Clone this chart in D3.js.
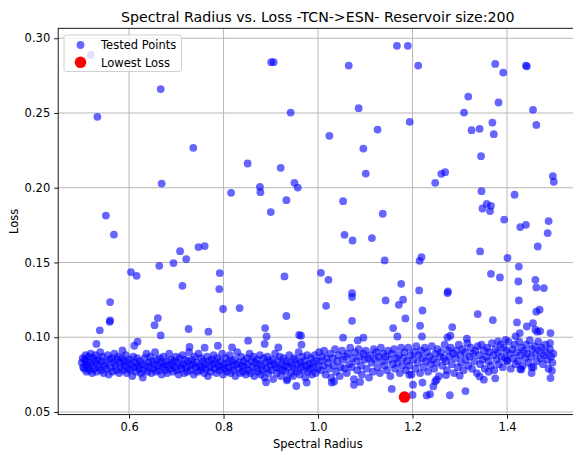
<!DOCTYPE html>
<html>
<head>
<meta charset="utf-8">
<script src="https://cdn.jsdelivr.net/npm/d3@7"></script>
<style>
  body { margin: 0; background: #fff; }
  text { font-family: "DejaVu Sans", sans-serif; fill: #000; }
</style>
</head>
<body>
<svg id="chart" width="573" height="453"></svg>
<script>
// [spectral radius, loss]
let highLossPoints = [
  [0.519,0.2888],[0.901,0.2840],[0.906,0.2840],[0.533,0.2474],[0.942,0.2503],[0.667,0.2660],[0.736,0.2267],
  [0.851,0.2162],[0.921,0.2133],[0.669,0.2028],[0.877,0.2006],[0.878,0.1970],[0.816,0.1966],[0.950,0.2033],
  [0.957,0.2001],[0.933,0.1917],[0.900,0.1837],[0.551,0.1814],[0.568,0.1687],[0.708,0.1576],[0.721,0.1523],
  [0.747,0.1603],[0.760,0.1610],[0.694,0.1496],[0.664,0.1478],[0.604,0.1436],[0.616,0.1411],[0.792,0.1429],
  [0.791,0.1322],[0.929,0.1407],[0.713,0.1344],[0.560,0.1235],[0.799,0.1189],[0.834,0.1195],
  [1.167,0.2949],[1.190,0.2949],[1.065,0.2817],[1.212,0.2817],[1.375,0.2828],[1.392,0.2770],[1.440,0.2817],
  [1.442,0.2812],[1.318,0.2610],[1.382,0.2570],[1.086,0.2532],[1.309,0.2503],[1.455,0.2521],[1.194,0.2441],
  [1.369,0.2436],[1.462,0.2420],[1.126,0.2389],[1.325,0.2385],[1.342,0.2394],[1.024,0.2347],[1.372,0.2358],
  [1.096,0.2262],[1.345,0.2211],[1.101,0.2095],[1.261,0.2093],[1.269,0.2104],[1.248,0.2033],[1.497,0.2078],
  [1.499,0.2040],[1.346,0.1977],[1.053,0.1910],[1.416,0.1953],[1.357,0.1892],[1.366,0.1879],[1.348,0.1861],
  [1.364,0.1844],[1.137,0.1826],[1.394,0.1787],[1.428,0.1737],[1.440,0.1752],[1.488,0.1777],[1.486,0.1697],
  [1.056,0.1685],[1.073,0.1647],[1.114,0.1663],[1.465,0.1607],[1.343,0.1574],[1.401,0.1530],[1.141,0.1514],
  [1.219,0.1536],[1.215,0.1511],[1.425,0.1473],[1.006,0.1431],[1.022,0.1384],[1.366,0.1424],[1.385,0.1400],
  [1.424,0.1373],[1.460,0.1384],[1.462,0.1333],[1.478,0.1329],[1.176,0.1357],[1.072,0.1295],[1.072,0.1269],
  [1.275,0.1306],[1.274,0.1296],[1.214,0.1313],[1.143,0.1246],[1.180,0.1251],[1.171,0.1217],[1.425,0.1246],
  [1.017,0.1210],[1.221,0.1179],[1.338,0.1155],[1.462,0.1171],[1.469,0.1184]
];

let midLossPoints = [
  [0.661,0.1128],[0.560,0.1112],[0.933,0.1142],[0.538,0.1046],[0.559,0.1103],[0.654,0.1081],[0.667,0.1012],
  [0.726,0.1055],[0.768,0.1037],[0.531,0.0955],[0.611,0.0943],[0.618,0.0970],[0.586,0.0912],[0.728,0.0935],
  [0.760,0.0930],[0.788,0.0943],[0.887,0.0955],[0.852,0.0977],[0.965,0.0950],[0.888,0.1061],[0.891,0.1005],
  [0.960,0.1015],[0.964,0.1010],[0.818,0.0932],[0.916,0.0932],
  [1.072,0.1110],[1.185,0.1126],[1.053,0.0997],[1.096,0.0997],[1.084,0.0979],[1.159,0.1061],[1.168,0.1005],
  [1.370,0.1115],[1.216,0.1077],[1.220,0.1005],[1.284,0.1068],[1.421,0.1099],[1.442,0.1072],[1.455,0.1095],
  [1.464,0.1037],[1.470,0.1041],[1.427,0.1028],[1.492,0.1028],[1.274,0.0999],[1.280,0.1010],[1.315,0.0990],
  [1.418,0.1006],[1.460,0.1050],[1.491,0.0961],[1.397,0.0983],[1.381,0.0972]
];

let bandLeft = [
  [0.500,0.083],[0.502,0.086],[0.503,0.080],[0.505,0.079],[0.506,0.085],[0.508,0.088],[0.509,0.082],[0.510,0.077],
  [0.511,0.084],[0.513,0.080],[0.514,0.087],[0.516,0.078],[0.518,0.083],[0.519,0.089],
  [0.521,0.081],[0.522,0.076],[0.524,0.086],[0.526,0.079],[0.528,0.084],[0.529,0.088],
  [0.531,0.077],[0.533,0.082],[0.535,0.085],[0.537,0.080],[0.539,0.090],
  [0.541,0.078],[0.542,0.084],[0.544,0.087],[0.546,0.076],[0.548,0.081],
  [0.551,0.083],[0.553,0.079],[0.555,0.088],[0.557,0.075],[0.559,0.085],
  [0.561,0.080],[0.563,0.086],[0.565,0.077],[0.567,0.083],[0.569,0.089],
  [0.571,0.081],[0.573,0.078],[0.575,0.085],[0.577,0.087],[0.579,0.076],
  [0.581,0.083],[0.583,0.080],[0.585,0.086],[0.587,0.078],[0.589,0.084],
  [0.591,0.081],[0.593,0.088],[0.595,0.076],[0.597,0.083],[0.599,0.079],
  [0.601,0.085],[0.603,0.078],[0.605,0.082],[0.607,0.074],[0.609,0.087],
  [0.611,0.080],[0.613,0.083],[0.615,0.077],[0.617,0.086],[0.619,0.081],
  [0.621,0.079],[0.623,0.084],[0.625,0.076],[0.627,0.082],[0.629,0.073],
  [0.631,0.078],[0.633,0.086],[0.635,0.081],[0.637,0.089],[0.639,0.077],
  [0.641,0.083],[0.643,0.080],[0.645,0.087],[0.647,0.076],[0.649,0.084],
  [0.651,0.079],[0.653,0.082],[0.655,0.090],[0.657,0.077],[0.659,0.085],
  [0.661,0.081],[0.663,0.078],[0.665,0.086],[0.667,0.083],[0.669,0.075],
  [0.671,0.080],[0.673,0.087],[0.675,0.082],[0.677,0.078],[0.679,0.084],
  [0.681,0.076],[0.683,0.081],[0.685,0.089],[0.687,0.079],[0.689,0.085],
  [0.691,0.082],[0.693,0.077],[0.695,0.084],[0.697,0.080],[0.699,0.087],
  [0.701,0.078],[0.703,0.083],[0.705,0.075],[0.707,0.086],[0.709,0.081],
  [0.711,0.079],[0.713,0.088],[0.715,0.082],[0.717,0.076],[0.719,0.085],
  [0.721,0.080],[0.723,0.077],[0.725,0.084],[0.727,0.090],[0.729,0.081],
  [0.731,0.078],[0.733,0.085],[0.735,0.082],[0.737,0.075],[0.739,0.087],
  [0.741,0.080],[0.743,0.083],[0.745,0.077],[0.747,0.089],[0.749,0.081],
  [0.751,0.078],[0.753,0.086],[0.755,0.080],[0.757,0.084],[0.759,0.076],
  [0.761,0.082],[0.763,0.079],[0.765,0.087],[0.767,0.074],[0.769,0.084],
  [0.771,0.080],[0.773,0.077],[0.775,0.085],[0.777,0.082],[0.779,0.088],
  [0.781,0.079],[0.783,0.083],[0.785,0.076],[0.787,0.086],[0.789,0.081],
  [0.791,0.078],[0.793,0.084],[0.795,0.080],[0.797,0.089],[0.799,0.075],
  [0.801,0.082],[0.803,0.079],[0.805,0.086],[0.807,0.077],[0.809,0.083],
  [0.811,0.080],[0.813,0.088],[0.815,0.076],[0.817,0.084],[0.819,0.081],
  [0.821,0.078],[0.823,0.085],[0.825,0.074],[0.827,0.082],[0.829,0.090],
  [0.831,0.079],[0.833,0.083],[0.835,0.076],[0.837,0.087],[0.839,0.081],
  [0.841,0.077],[0.843,0.084],[0.845,0.080],[0.847,0.075],[0.849,0.086],
  [0.851,0.082],[0.853,0.078],[0.855,0.089],[0.857,0.076],[0.859,0.084],
  [0.861,0.080],[0.863,0.087],[0.865,0.074],[0.867,0.083],[0.869,0.079],
  [0.871,0.085],[0.873,0.077],[0.875,0.082],[0.877,0.088],[0.879,0.075],
  [0.881,0.081],[0.883,0.078],[0.885,0.086],[0.887,0.073],[0.889,0.083],
  [0.891,0.079],[0.893,0.087],[0.895,0.076],[0.897,0.084],[0.899,0.081],
  [0.901,0.078],[0.903,0.085],[0.905,0.072],[0.907,0.082],[0.909,0.089],
  [0.911,0.080],[0.913,0.076],[0.915,0.084],[0.917,0.079],[0.919,0.087],
  [0.921,0.074],[0.923,0.082],[0.925,0.078],[0.927,0.086],[0.929,0.081],
  [0.931,0.077],[0.933,0.084],[0.935,0.072],[0.937,0.080],[0.939,0.088],
  [0.941,0.083],[0.943,0.076],[0.945,0.081],[0.947,0.074],[0.949,0.086],
  [0.951,0.079],[0.953,0.085],[0.955,0.077],[0.957,0.082],[0.959,0.090],
  [0.961,0.075],[0.963,0.083],[0.965,0.080],[0.967,0.087],[0.969,0.078],
  [0.971,0.084],[0.973,0.073],[0.975,0.081],[0.977,0.088],[0.979,0.077],
  [0.981,0.082],[0.983,0.079],[0.985,0.086],[0.987,0.075],[0.989,0.083],
  [0.991,0.080],[0.993,0.088],[0.995,0.076],[0.997,0.084],[0.999,0.079]
];

let bandRight = [
  [1.002,0.090],[1.004,0.084],[1.007,0.078],[1.009,0.087],[1.011,0.081],[1.013,0.091],[1.016,0.075],[1.018,0.086],
  [1.021,0.083],[1.023,0.079],[1.026,0.089],[1.028,0.073],[1.031,0.086],[1.033,0.081],[1.036,0.092],[1.038,0.077],
  [1.041,0.084],[1.043,0.088],[1.046,0.074],[1.048,0.080],[1.051,0.091],[1.053,0.085],[1.056,0.079],[1.058,0.087],
  [1.061,0.076],[1.063,0.089],[1.066,0.082],[1.068,0.093],[1.071,0.080],[1.073,0.086],[1.076,0.072],[1.078,0.090],
  [1.081,0.084],[1.083,0.078],[1.086,0.092],[1.088,0.087],[1.091,0.081],[1.093,0.075],[1.096,0.089],[1.098,0.085],
  [1.101,0.091],[1.103,0.079],[1.106,0.086],[1.108,0.073],[1.111,0.088],[1.113,0.083],[1.116,0.077],[1.118,0.092],
  [1.121,0.085],[1.123,0.090],[1.126,0.080],[1.128,0.087],[1.131,0.076],[1.133,0.093],[1.136,0.084],[1.138,0.089],
  [1.141,0.081],[1.143,0.087],[1.146,0.078],[1.148,0.091],[1.151,0.085],[1.153,0.074],[1.156,0.089],[1.158,0.082],
  [1.161,0.092],[1.163,0.079],[1.166,0.086],[1.168,0.083],[1.171,0.088],[1.173,0.076],[1.176,0.093],[1.178,0.081],
  [1.181,0.086],[1.183,0.090],[1.186,0.078],[1.188,0.084],[1.191,0.093],[1.193,0.081],[1.196,0.088],[1.198,0.075],
  [1.201,0.085],[1.203,0.090],[1.206,0.079],[1.208,0.094],[1.211,0.083],[1.213,0.088],[1.216,0.076],[1.218,0.091],
  [1.221,0.086],[1.223,0.080],[1.226,0.093],[1.228,0.084],[1.231,0.090],[1.233,0.077],[1.236,0.087],[1.238,0.082],
  [1.241,0.094],[1.243,0.085],[1.246,0.079],[1.248,0.089],[1.251,0.083],[1.253,0.092],[1.256,0.074],[1.258,0.087],
  [1.261,0.090],[1.263,0.081],[1.266,0.086],[1.268,0.095],[1.271,0.084],[1.273,0.078],[1.276,0.091],[1.278,0.087],
  [1.281,0.093],[1.283,0.082],[1.286,0.089],[1.288,0.076],[1.291,0.086],[1.293,0.091],[1.296,0.080],[1.298,0.095],
  [1.301,0.088],[1.303,0.083],[1.306,0.092],[1.308,0.078],[1.311,0.090],[1.313,0.085],[1.316,0.096],[1.318,0.081],
  [1.321,0.087],[1.323,0.093],[1.326,0.079],[1.328,0.089],[1.331,0.084],[1.333,0.091],[1.336,0.076],[1.338,0.094],
  [1.341,0.088],[1.343,0.082],[1.346,0.095],[1.348,0.085],[1.351,0.091],[1.353,0.079],[1.356,0.087],[1.358,0.093],
  [1.361,0.084],[1.363,0.090],[1.366,0.081],[1.368,0.096],[1.371,0.088],[1.373,0.078],[1.376,0.092],[1.378,0.085],
  [1.381,0.090],[1.383,0.082],[1.386,0.095],[1.388,0.087],[1.391,0.080],[1.393,0.093],[1.396,0.086],[1.398,0.091],
  [1.401,0.084],[1.403,0.097],[1.406,0.089],[1.408,0.079],[1.411,0.092],[1.413,0.086],[1.416,0.095],[1.418,0.082],
  [1.421,0.090],[1.423,0.084],[1.426,0.097],[1.428,0.088],[1.431,0.093],[1.433,0.081],[1.436,0.091],[1.438,0.086],
  [1.441,0.095],[1.443,0.089],[1.446,0.083],[1.448,0.098],[1.451,0.087],[1.453,0.092],[1.456,0.080],[1.458,0.094],
  [1.461,0.089],[1.463,0.084],[1.466,0.097],[1.468,0.091],[1.471,0.086],[1.473,0.093],[1.476,0.082],[1.478,0.088],
  [1.481,0.095],[1.483,0.090],[1.486,0.085],[1.488,0.079],[1.491,0.092],[1.493,0.087],[1.496,0.083],[1.498,0.089]
];

let lowLossPoints = [
  [1.156,0.0654],[1.201,0.0683],[1.200,0.0614],[1.230,0.0611],[1.237,0.0619],[1.279,0.0612],[1.312,0.0640],
  [1.221,0.0697],[1.244,0.0671],[1.248,0.0705],[1.251,0.0716],[0.954,0.0674],[0.890,0.0699],[0.934,0.0712],
  [0.976,0.0697],[1.029,0.0697],[1.034,0.0704],[1.076,0.0682],[1.089,0.0701],[1.193,0.0749],[1.300,0.0743],
  [1.342,0.0738],[1.351,0.0716],[1.361,0.0769],[1.375,0.0725],[1.428,0.0787],[1.430,0.0785],[1.452,0.0800],
  [1.452,0.0760],[1.492,0.0727],[1.495,0.0776],[1.400,0.0845],[1.271,0.0747]
];

let lowestLoss = [1.183, 0.0600];

let xTicks = [0.6, 0.8, 1.0, 1.2, 1.4];
let yTicks = [0.05, 0.10, 0.15, 0.20, 0.25, 0.30];

let testedPoints = [].concat(highLossPoints, midLossPoints, bandLeft, bandRight, lowLossPoints);
let everyPoint = testedPoints.concat([lowestLoss]);

// matplotlib style 5% margins around the data
function padExtent(ext) {
  let d = (ext[1] - ext[0]) * 0.05;
  return [ext[0] - d, ext[1] + d];
}

let plotLeft = 58.2, plotRight = 577.4, plotTop = 28.3, plotBottom = 414.6;

let x = d3.scaleLinear()
  .domain(padExtent(d3.extent(everyPoint, p => p[0])))
  .range([plotLeft, plotRight]);
let y = d3.scaleLinear()
  .domain(padExtent(d3.extent(everyPoint, p => p[1])))
  .range([plotBottom, plotTop]);

let svg = d3.select('#chart');

svg.append('defs').append('clipPath').attr('id', 'plotclip')
  .append('rect')
  .attr('x', plotLeft).attr('y', plotTop)
  .attr('width', plotRight - plotLeft).attr('height', plotBottom - plotTop);

// grid
let grid = svg.append('g').attr('stroke', '#b0b0b0').attr('stroke-width', 0.9);
grid.selectAll('line.gx').data(xTicks).enter().append('line')
  .attr('x1', d => x(d)).attr('x2', d => x(d))
  .attr('y1', plotTop).attr('y2', plotBottom);
grid.selectAll('line.gy').data(yTicks).enter().append('line')
  .attr('x1', plotLeft).attr('x2', plotRight)
  .attr('y1', d => y(d)).attr('y2', d => y(d));

// points
let pts = svg.append('g').attr('clip-path', 'url(#plotclip)');
pts.selectAll('circle.tested').data(testedPoints).enter().append('circle')
  .attr('class', 'tested')
  .attr('cx', d => x(d[0])).attr('cy', d => y(d[1]))
  .attr('r', 3.9)
  .attr('fill', 'blue').attr('fill-opacity', 0.6);
pts.append('circle')
  .attr('cx', x(lowestLoss[0])).attr('cy', y(lowestLoss[1]))
  .attr('r', 5.8).attr('fill', 'red');

// axes
let xAxis = d3.axisBottom(x).tickValues(xTicks).tickFormat(d3.format('.1f'))
  .tickSize(4).tickPadding(4).tickSizeOuter(0);
let yAxis = d3.axisLeft(y).tickValues(yTicks).tickFormat(d3.format('.2f'))
  .tickSize(4).tickPadding(4).tickSizeOuter(0);

let gx = svg.append('g').attr('transform', 'translate(0,' + plotBottom + ')').call(xAxis);
let gy = svg.append('g').attr('transform', 'translate(' + plotLeft + ',0)').call(yAxis);
[gx, gy].forEach(g => {
  g.select('.domain').remove();
  g.attr('font-family', '"DejaVu Sans", sans-serif').attr('font-size', 11.5);
  g.selectAll('.tick line').attr('stroke', '#000').attr('stroke-width', 0.9);
  g.selectAll('.tick text').attr('fill', '#000');
});

// spines
svg.append('rect')
  .attr('x', plotLeft).attr('y', plotTop)
  .attr('width', plotRight - plotLeft).attr('height', plotBottom - plotTop)
  .attr('fill', 'none').attr('stroke', '#000').attr('stroke-width', 0.9);

// title and labels
svg.append('text')
  .attr('x', (plotLeft + plotRight) / 2).attr('y', 21.5)
  .attr('text-anchor', 'middle').attr('font-size', 14.2)
  .text('Spectral Radius vs. Loss -TCN->ESN- Reservoir size:200');
svg.append('text')
  .attr('x', (plotLeft + plotRight) / 2).attr('y', 447.5)
  .attr('text-anchor', 'middle').attr('font-size', 11.5)
  .text('Spectral Radius');
svg.append('text')
  .attr('transform', 'translate(17.5,' + ((plotTop + plotBottom) / 2) + ') rotate(-90)')
  .attr('text-anchor', 'middle').attr('font-size', 11.5)
  .text('Loss');

// legend
let legend = svg.append('g');
legend.append('rect')
  .attr('x', 64).attr('y', 35).attr('width', 117.5).attr('height', 36.5).attr('rx', 2.5)
  .attr('fill', '#fff').attr('fill-opacity', 0.8)
  .attr('stroke', '#cccccc').attr('stroke-width', 0.9);
legend.append('circle').attr('cx', 80.5).attr('cy', 45)
  .attr('r', 3.9).attr('fill', 'blue').attr('fill-opacity', 0.6);
legend.append('circle').attr('cx', 80.5).attr('cy', 62.3)
  .attr('r', 5.8).attr('fill', 'red');
legend.append('text').attr('x', 101).attr('y', 49.2).attr('font-size', 11.5).text('Tested Points');
legend.append('text').attr('x', 101).attr('y', 66.5).attr('font-size', 11.5).text('Lowest Loss');
</script>
</body>
</html>
